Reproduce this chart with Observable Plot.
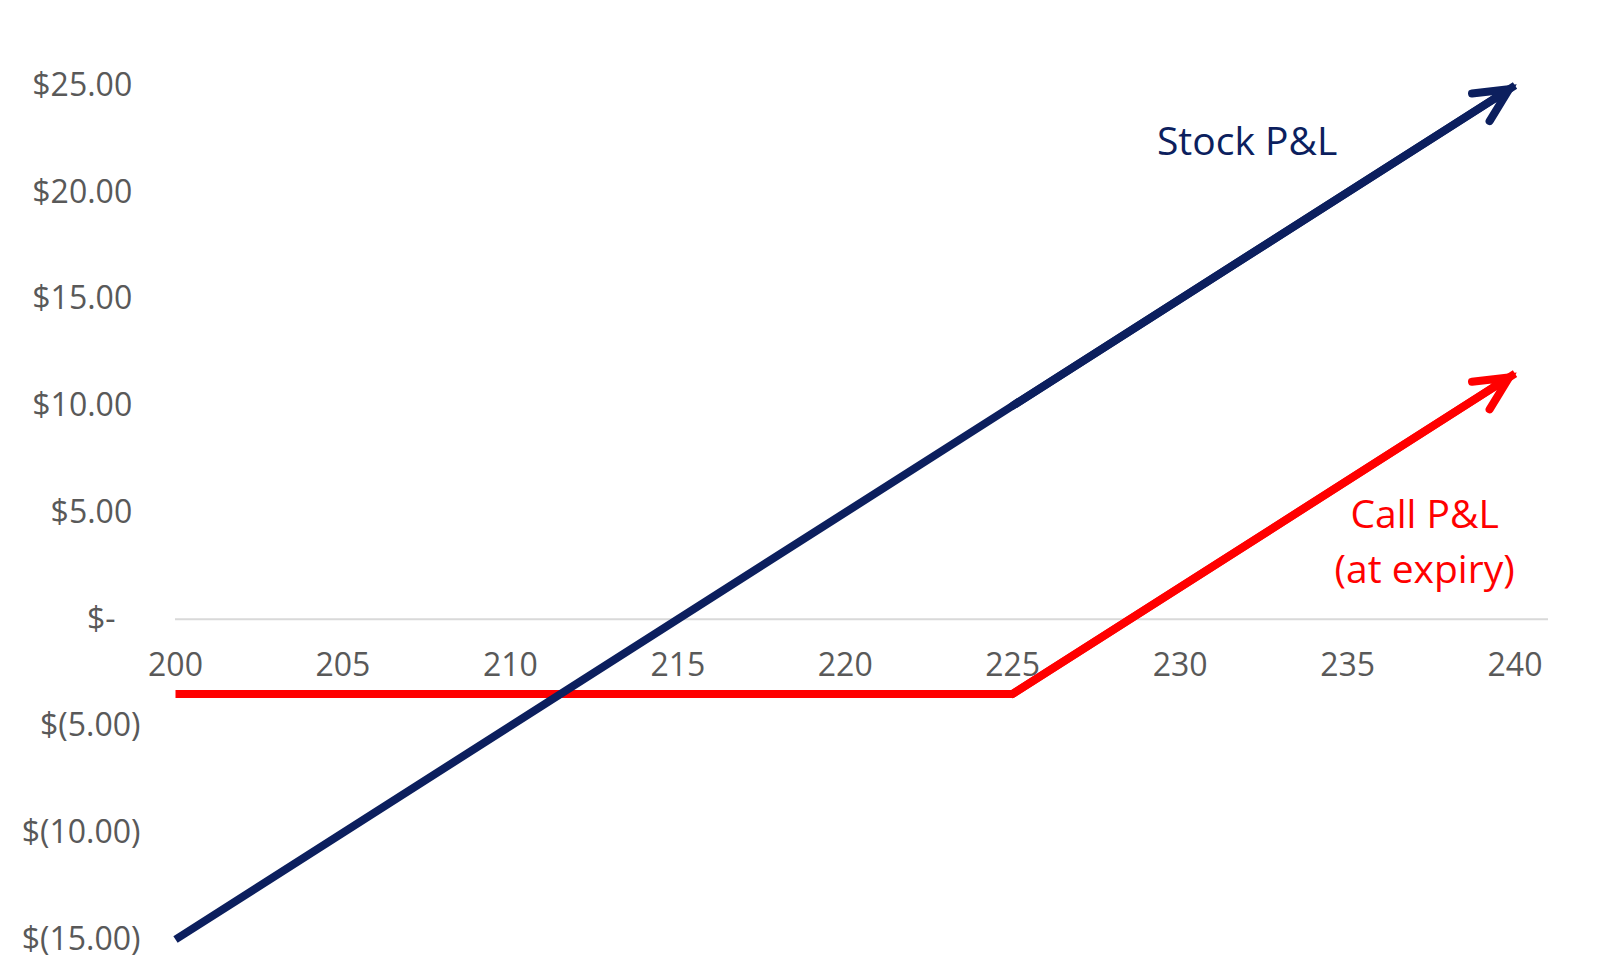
<!DOCTYPE html>
<html>
<head>
<meta charset="utf-8">
<script src="https://cdn.jsdelivr.net/npm/d3@7"></script>
<script src="https://cdn.jsdelivr.net/npm/@observablehq/plot@0.6"></script>
<style>
  html, body { margin: 0; padding: 0; background: #fff; overflow: hidden; }
  svg { display: block; }
</style>
</head>
<body>
<div id="chart"></div>
<script>
// Underlying price at expiry
const prices = [200, 225, 240];
// Stock P&L at each price
const stockPL = [-15, 10, 25];
// Call P&L (at expiry) at each price
const callPL = [-3.5, -3.5, 11.5];

// Axis ticks and their labels
const xTicks = [200, 205, 210, 215, 220, 225, 230, 235, 240];
const yTicks = [-15, -10, -5, 0, 5, 10, 15, 20, 25];
const yTickLabels = ["$(15.00)", "$(10.00)", "$(5.00)", "$-\u00a0\u00a0\u00a0", "$5.00\u00a0", "$10.00\u00a0", "$15.00\u00a0", "$20.00\u00a0", "$25.00\u00a0"];

// Series labels
const seriesNames = ["Stock P&L", "Call P&L\n(at expiry)"];
const labelX = [232.0, 237.3];
const labelY = [22.55, 3.8];

const NAVY = "#0c1f5e";
const RED = "#ff0000";
const FONT = "'Open Sans', sans-serif";

const stock = prices.map((p, i) => ({price: p, pl: stockPL[i]}));
const call = prices.map((p, i) => ({price: p, pl: callPL[i]}));
const lastSeg = (rows) => [{x1: rows[rows.length - 2].price, y1: rows[rows.length - 2].pl, x2: rows[rows.length - 1].price, y2: rows[rows.length - 1].pl}];
const labels = seriesNames.map((t, i) => ({t, x: labelX[i], y: labelY[i], c: i === 0 ? NAVY : RED}));
const yLabelMap = new Map(yTicks.map((v, i) => [v, yTickLabels[i]]));

const SW = 8;

const chart = Plot.plot({
  width: 1600,
  height: 962,
  marginLeft: 175,
  marginRight: 52,
  marginTop: 85,
  marginBottom: 23,
  style: {fontFamily: FONT, background: "#fff", overflow: "visible"},
  x: {domain: [200, 241], axis: null},
  y: {domain: [-15, 25]},
  marks: [
    Plot.ruleY([0], {stroke: "#d9d9d9", strokeWidth: 2}),
    Plot.axisY(yTicks, {
      anchor: "left",
      tickSize: 0,
      tickPadding: 35,
      tickFormat: (d) => yLabelMap.get(d),
      fontSize: 32,
      fill: "#595959",
      textAnchor: "end",
      label: null
    }),
    Plot.text(xTicks, {
      x: (d) => d,
      y: 0,
      dy: 46,
      text: (d) => String(d),
      fontSize: 32,
      fill: "#595959",
      textAnchor: "middle"
    }),
    Plot.line(call, {x: "price", y: "pl", stroke: RED, strokeWidth: SW, strokeLinejoin: "miter", strokeLinecap: "butt"}),
    Plot.arrow(lastSeg(call), {x1: "x1", y1: "y1", x2: "x2", y2: "y2", stroke: RED, strokeWidth: SW, headAngle: 52, headLength: 7, strokeLinecap: "round", strokeLinejoin: "miter", strokeMiterlimit: 10, insetEnd: 7}),
    Plot.line(stock, {x: "price", y: "pl", stroke: NAVY, strokeWidth: SW, strokeLinejoin: "miter", strokeLinecap: "butt"}),
    Plot.arrow(lastSeg(stock), {x1: "x1", y1: "y1", x2: "x2", y2: "y2", stroke: NAVY, strokeWidth: SW, headAngle: 52, headLength: 7, strokeLinecap: "round", strokeLinejoin: "miter", strokeMiterlimit: 10, insetEnd: 7}),
    Plot.text(labels, {x: "x", y: "y", text: "t", fill: "c", fontSize: 39, lineHeight: 1.4, textAnchor: "middle", lineAnchor: "middle"})
  ]
});
document.getElementById("chart").appendChild(chart);
</script>
</body>
</html>
